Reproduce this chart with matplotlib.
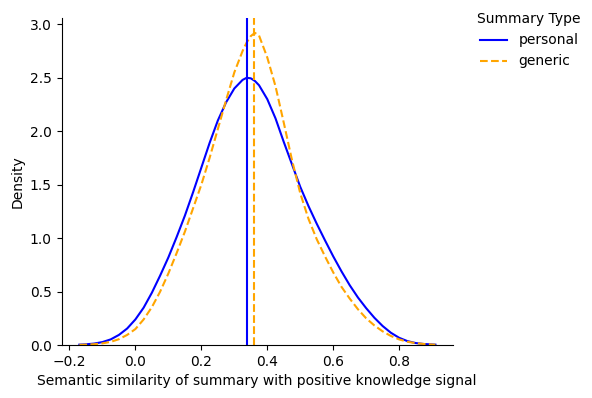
import matplotlib
matplotlib.use("Agg")
import matplotlib.pyplot as plt

# density curves (seaborn kde look)
x_grid = [-0.17, -0.15, -0.125, -0.1, -0.075, -0.05, -0.025, 0.0, 0.025, 0.05,
          0.075, 0.1, 0.125, 0.15, 0.175, 0.2, 0.225, 0.25, 0.275, 0.3,
          0.325, 0.3375, 0.35, 0.3625, 0.375, 0.4, 0.425, 0.45, 0.475, 0.5,
          0.525, 0.55, 0.575, 0.6, 0.625, 0.65, 0.675, 0.7, 0.725, 0.75,
          0.775, 0.8, 0.825, 0.85, 0.875, 0.91]

personal = [0.004, 0.007, 0.014, 0.028, 0.053, 0.095, 0.155, 0.24, 0.35, 0.49,
            0.65, 0.82, 1.01, 1.21, 1.43, 1.66, 1.89, 2.10, 2.27, 2.40,
            2.48, 2.50, 2.495, 2.47, 2.43, 2.30, 2.12, 1.90, 1.69, 1.48,
            1.30, 1.135, 0.98, 0.83, 0.69, 0.56, 0.445, 0.345, 0.255, 0.178,
            0.115, 0.068, 0.037, 0.019, 0.01, 0.004]

generic = [0.002, 0.004, 0.008, 0.016, 0.03, 0.055, 0.095, 0.15, 0.24, 0.355,
           0.50, 0.67, 0.86, 1.06, 1.28, 1.50, 1.75, 2.02, 2.29, 2.55,
           2.75, 2.83, 2.89, 2.92, 2.895, 2.69, 2.42, 2.08, 1.73, 1.42,
           1.18, 0.99, 0.83, 0.68, 0.545, 0.435, 0.335, 0.25, 0.183, 0.128,
           0.085, 0.053, 0.031, 0.018, 0.01, 0.003]

mean_personal = 0.338
mean_generic = 0.359

fig = plt.figure(figsize=(5.92, 3.98), dpi=100)
ax = fig.add_axes([0.104, 0.133, 0.661, 0.822])

ax.plot(x_grid, personal, color="blue", lw=1.5, label="personal")
ax.plot(x_grid, generic, color="orange", lw=1.5, ls="--", label="generic")
ax.axvline(mean_personal, color="blue", lw=1.5)
ax.axvline(mean_generic, color="orange", lw=1.5, ls="--")

ax.set_xlim(-0.224, 0.963)
ax.set_ylim(0, 3.06)
ax.set_xticks([-0.2, 0.0, 0.2, 0.4, 0.6, 0.8])
ax.set_yticks([0.0, 0.5, 1.0, 1.5, 2.0, 2.5, 3.0])
ax.spines["top"].set_visible(False)
ax.spines["right"].set_visible(False)
ax.set_xlabel("Semantic similarity of summary with positive knowledge signal")
ax.set_ylabel("Density")

fig.legend(title="Summary Type", loc="upper left", bbox_to_anchor=(0.785, 1.0),
           frameon=False)

fig.savefig("out.png", dpi=100)
